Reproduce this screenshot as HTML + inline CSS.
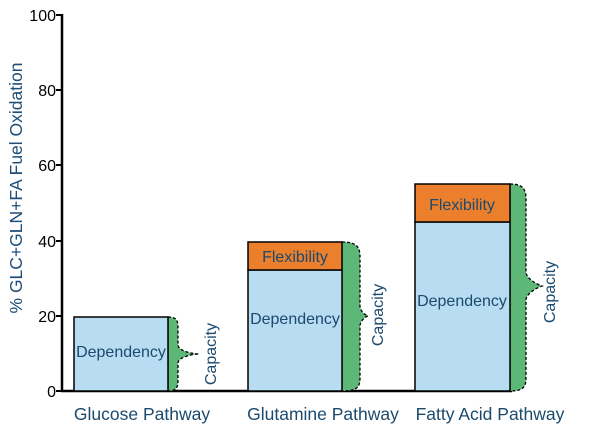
<!DOCTYPE html>
<html><head><meta charset="utf-8"><style>
html,body{margin:0;padding:0;background:#fff;}
svg{display:block;}
text{font-family:"Liberation Sans",sans-serif;}
</style></head><body>
<svg width="600" height="431" viewBox="0 0 600 431" xmlns="http://www.w3.org/2000/svg">
<line x1="62" y1="14" x2="62" y2="392" stroke="#000" stroke-width="2.5"/>
<line x1="61" y1="391" x2="512" y2="391" stroke="#000" stroke-width="2.5"/>
<g stroke="#000" stroke-width="2">
<line x1="56" y1="15" x2="62" y2="15"/><line x1="56" y1="90" x2="62" y2="90"/>
<line x1="56" y1="165" x2="62" y2="165"/><line x1="56" y1="241" x2="62" y2="241"/>
<line x1="56" y1="316" x2="62" y2="316"/><line x1="56" y1="391" x2="62" y2="391"/>
</g>
<g font-size="16" fill="#000" text-anchor="end">
<text x="56" y="21">100</text><text x="56" y="96">80</text><text x="56" y="171">60</text>
<text x="56" y="247">40</text><text x="56" y="322">20</text><text x="56" y="397">0</text>
</g>
<text transform="translate(22,188) rotate(-90)" font-size="17.5" fill="#1f4e79" text-anchor="middle">% GLC+GLN+FA Fuel Oxidation</text>

<g fill="#5db878" stroke="#000" stroke-width="1.3" stroke-dasharray="3,2">
<path d="M168,317 C178,317 178,322 178,330 L178,345 C178,351 193,354 199,354 C193,354 178,357 178,363 L178,380 C178,388 176,391 168,391 Z"/>
<path d="M342,242 C358,242 360,248 360,258 L360,306 C360,311 365,315 368,316 C365,317 360,321 360,326 L360,378 C360,388 356,391 342,391 Z"/>
<path d="M510,184 C524,184 526,190 526,200 L526,272 C526,278 536,284 542,286 C536,288 526,294 526,300 L526,378 C526,388 522,391 510,391 Z"/>
</g>

<g stroke="#000" stroke-width="1.5">
<rect x="74" y="317" width="94" height="74" fill="#b8dcf1"/>
<rect x="248" y="270" width="94" height="121" fill="#b8dcf1"/>
<rect x="248" y="242" width="94" height="28" fill="#ec7f2c"/>
<rect x="415" y="222" width="95" height="169" fill="#b8dcf1"/>
<rect x="415" y="184" width="95" height="38" fill="#ec7f2c"/>
</g>

<g font-size="16" fill="#1b4a6e" text-anchor="middle">
<text x="121" y="357">Dependency</text>
<text x="295" y="324">Dependency</text>
<text x="295" y="262">Flexibility</text>
<text x="462" y="306">Dependency</text>
<text x="462" y="210">Flexibility</text>
<text transform="translate(216,354) rotate(-90)">Capacity</text>
<text transform="translate(383,315) rotate(-90)">Capacity</text>
<text transform="translate(555,292) rotate(-90)">Capacity</text>
</g>
<g font-size="17.5" fill="#1b4a6e" text-anchor="middle">
<text x="142" y="420">Glucose Pathway</text>
<text x="323" y="420">Glutamine Pathway</text>
<text x="490" y="420">Fatty Acid Pathway</text>
</g>
</svg>
</body></html>
